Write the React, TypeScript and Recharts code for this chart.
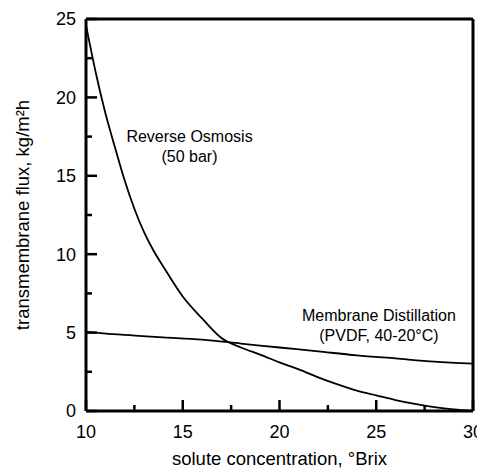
import { LineChart, Line, XAxis, YAxis, ReferenceLine, ReferenceDot } from 'recharts'

// Reverse osmosis (50 bar)
const roConc = [10, 10.5, 11, 11.5, 12, 12.5, 13, 13.5, 14, 15, 16, 17, 18, 19, 20, 21, 22, 23, 24, 25, 26, 27, 28, 29, 30]
const roFlux = [24.6, 21.6, 19.0, 16.8, 14.7, 12.9, 11.4, 10.2, 9.2, 7.3, 5.9, 4.65, 4.05, 3.6, 3.1, 2.65, 2.15, 1.7, 1.3, 1.0, 0.7, 0.45, 0.25, 0.1, 0]

// Membrane distillation (PVDF, 40-20°C)
const mdConc = [10, 12, 14, 16, 18, 20, 22, 24, 26, 28, 30]
const mdFlux = [5.05, 4.85, 4.7, 4.55, 4.3, 4.05, 3.8, 3.55, 3.35, 3.15, 3.02]

const xTicks = [10, 12.5, 15, 17.5, 20, 22.5, 25, 27.5, 30]
const xLabels = [10, 15, 20, 25, 30]
const yTicks = [0, 2.5, 5, 7.5, 10, 12.5, 15, 17.5, 20, 22.5, 25]
const yLabels = [0, 5, 10, 15, 20, 25]

const roData = roConc.map((x, i) => ({ x, y: roFlux[i] }))
const mdData = mdConc.map((x, i) => ({ x, y: mdFlux[i] }))

const FONT = '"Liberation Sans", Arial, Helvetica, sans-serif'

const XTick = (props: any) => {
  const { x, y, payload } = props
  const major = xLabels.includes(payload.value)
  return (
    <g>
      <line x1={x} x2={x} y1={y} y2={y - (major ? 11 : 6)} stroke="#000" strokeWidth={2.5} />
      {major && (
        <text x={x} y={y + 27} textAnchor="middle" fontSize={18} fontFamily={FONT} fill="#000">
          {payload.value}
        </text>
      )}
    </g>
  )
}

const YTick = (props: any) => {
  const { x, y, payload } = props
  const major = yLabels.includes(payload.value)
  return (
    <g>
      <line x1={x} x2={x + (major ? 11 : 6)} y1={y} y2={y} stroke="#000" strokeWidth={2.5} />
      {major && (
        <text x={x - 10} y={y} dy="0.35em" textAnchor="end" fontSize={18} fontFamily={FONT} fill="#000">
          {payload.value}
        </text>
      )}
    </g>
  )
}

const YTitle = (props: any) => {
  const { viewBox } = props
  const cy = viewBox.y + viewBox.height / 2
  return (
    <text
      x={14}
      y={cy}
      transform={`rotate(-90, 14, ${cy})`}
      textAnchor="middle"
      dominantBaseline="central"
      fontSize={18.5}
      fontFamily={FONT}
      fill="#000"
    >
      transmembrane flux, kg/m²h
    </text>
  )
}

const XTitle = (props: any) => {
  const { viewBox } = props
  const cx = viewBox.x + viewBox.width / 2
  return (
    <text x={cx} y={viewBox.y + 54} textAnchor="middle" fontSize={18.5} fontFamily={FONT} fill="#000">
      solute concentration, °Brix
    </text>
  )
}

const Note = (lines: string[]) => (props: any) => {
  const { viewBox } = props
  const cx = viewBox.x + (viewBox.width || 0) / 2
  const cy = viewBox.y + (viewBox.height || 0) / 2
  return (
    <text textAnchor="middle" fontSize={16} fontFamily={FONT} fill="#000">
      {lines.map((l, i) => (
        <tspan key={i} x={cx} y={cy + i * 20}>
          {l}
        </tspan>
      ))}
    </text>
  )
}

export default function App() {
  return (
    <LineChart width={477} height={460} margin={{ top: 11, right: 12, left: 0, bottom: 0 }}>
      <XAxis
        type="number"
        dataKey="x"
        domain={[10, 30]}
        ticks={xTicks}
        tick={<XTick />}
        tickLine={false}
        tickSize={0}
        tickMargin={0}
        height={57}
        axisLine={{ stroke: '#000', strokeWidth: 3 }}
        allowDataOverflow
        interval={0}
        label={<XTitle />}
      />
      <YAxis
        type="number"
        dataKey="y"
        domain={[0, 25]}
        ticks={yTicks}
        tick={<YTick />}
        tickLine={false}
        tickSize={0}
        tickMargin={0}
        width={78}
        axisLine={{ stroke: '#000', strokeWidth: 3 }}
        allowDataOverflow
        interval={0}
        label={<YTitle />}
      />
      <ReferenceLine y={25} stroke="#000" strokeWidth={3} />
      <ReferenceLine x={30} stroke="#000" strokeWidth={3} />
      <Line data={roData} dataKey="y" type="monotone" stroke="#000" strokeWidth={1.8} dot={false} isAnimationActive={false} />
      <Line data={mdData} dataKey="y" type="monotone" stroke="#000" strokeWidth={1.8} dot={false} isAnimationActive={false} />
      <ReferenceDot x={15.35} y={17.13} r={0} stroke="none" label={Note(['Reverse Osmosis', '(50 bar)'])} />
      <ReferenceDot x={25.14} y={5.74} r={0} stroke="none" label={Note(['Membrane Distillation', '(PVDF, 40-20°C)'])} />
    </LineChart>
  )
}
